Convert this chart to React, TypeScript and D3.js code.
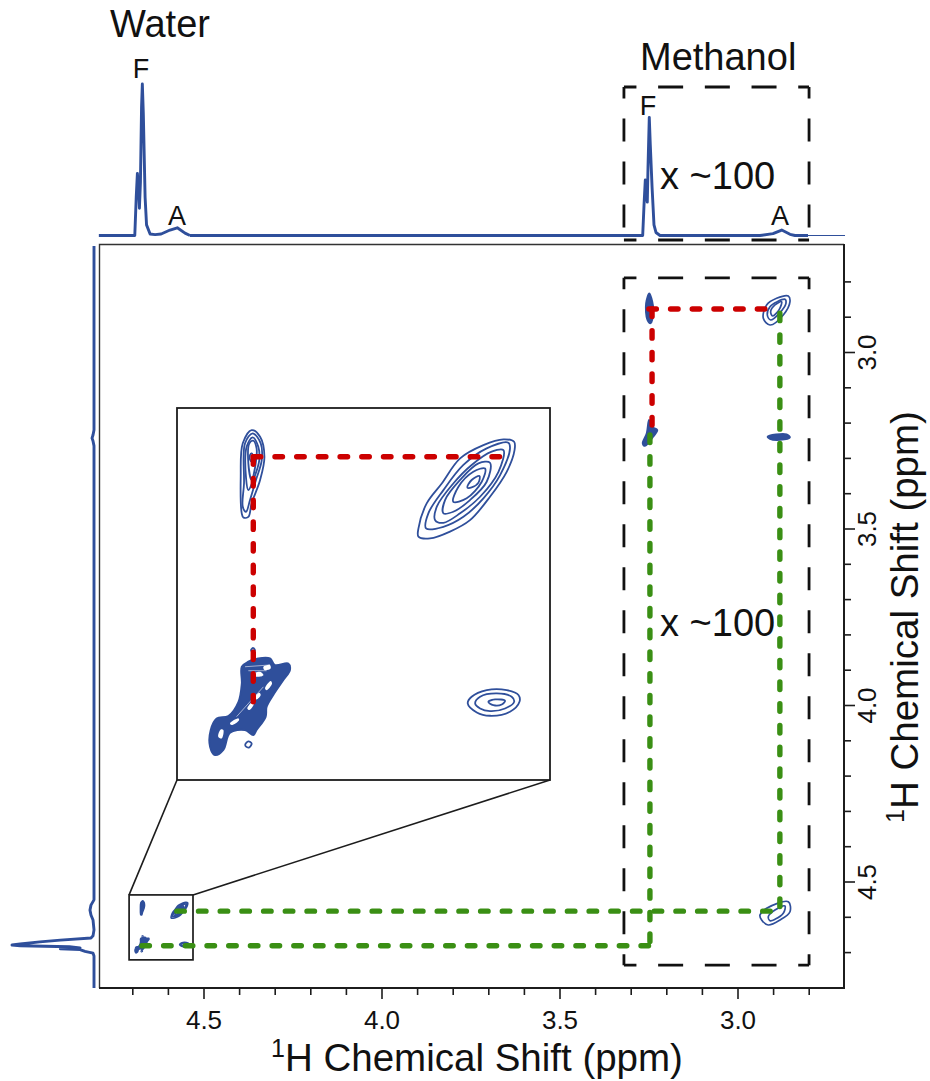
import React, { useEffect, useRef } from "react";
import * as d3 from "d3";

type P = [number, number];
const BLUE = "#2f4f9b", RED = "#cc0000", GREEN = "#3a8f14", INK = "#1c1c1c";
const FONT = "'Liberation Sans', Arial, sans-serif";

// axis values (ppm)
const majorX = [4.5, 4.0, 3.5, 3.0];
const minorX = [4.7, 4.6, 4.4, 4.3, 4.2, 4.1, 3.9, 3.8, 3.7, 3.6, 3.4, 3.3, 3.2, 3.1, 2.9, 2.8];
const majorY = [3.0, 3.5, 4.0, 4.5];
const minorY = [2.8, 2.9, 3.1, 3.2, 3.3, 3.4, 3.6, 3.7, 3.8, 3.9, 4.1, 4.2, 4.3, 4.4, 4.6, 4.7];

// top projection: [ppm, relative intensity]
const topWater: P[] = [[4.794,0],[4.693,0],[4.689,25],[4.6857,41],[4.6823,32],[4.680,18],[4.6772,35],[4.674,85],[4.6718,100],[4.669,80],[4.664,25],[4.660,7],[4.650,1],[4.636,0.6],[4.619,1],[4.594,3.6],[4.5736,5.1],[4.552,1.6],[4.538,0]];
const topMethanol: P[] = [[4.538,0],[3.2663,0],[3.2626,20],[3.259,36.6],[3.2562,30],[3.2534,22],[3.2514,45],[3.2478,78],[3.245,60],[3.24,32],[3.2346,7],[3.229,2],[3.2177,0],[2.9368,0],[2.9003,1.2],[2.8758,3.6],[2.8525,0.8],[2.8385,0],[2.802,0]];
const topTail: P[] = [[2.802,0],[2.698,0]];
// left projection: [ppm, relative intensity]
const leftTrace: P[] = [[2.7,0],[3.221,0],[3.235,1.2],[3.244,2.4],[3.252,1.2],[3.266,0],[4.552,0],[4.567,3.7],[4.581,4.9],[4.595,3.7],[4.609,1.2],[4.637,0],[4.654,1.2],[4.660,3.7],[4.666,41],[4.671,66],[4.677,90],[4.680,100],[4.682,90],[4.685,30],[4.688,17],[4.691,41],[4.693,17],[4.698,11],[4.703,1.2],[4.711,0],[4.802,0]];

// water region contours: [F2 ppm, F1 ppm]
const waterFF: P[][] = [
  [[4.6766,4.5927],[4.6771,4.5761],[4.6761,4.561],[4.6718,4.555],[4.6677,4.558],[4.6656,4.5671],[4.6677,4.5776],[4.6718,4.5882],[4.6734,4.5943],[4.6758,4.5946]],
  [[4.6755,4.5792],[4.675,4.561],[4.6713,4.5565],[4.6674,4.561],[4.6669,4.5686],[4.6697,4.5776],[4.6726,4.5867],[4.6745,4.592],[4.6761,4.5897]],
  [[4.6745,4.5769],[4.6742,4.5625],[4.6713,4.5583],[4.6686,4.5625],[4.6681,4.5686],[4.671,4.5776],[4.6734,4.5822]],
  [[4.6734,4.5701],[4.6729,4.561],[4.671,4.5598],[4.6694,4.5633],[4.6697,4.5693],[4.6718,4.5776]],
  [[4.6726,4.5663],[4.6718,4.5656],[4.671,4.5674],[4.6718,4.5693],[4.6726,4.5683]],
];
const waterAF: P[][] = [
  [[4.5909,4.6033],[4.5909,4.5995],[4.5869,4.5882],[4.5796,4.5792],[4.5707,4.5678],[4.5594,4.5618],[4.5497,4.5592],[4.5445,4.5603],[4.5443,4.5641],[4.5481,4.5739],[4.5562,4.5852],[4.5659,4.5958],[4.5756,4.601],[4.5853,4.6041]],
  [[4.5872,4.5995],[4.5861,4.5927],[4.5788,4.5822],[4.5691,4.5708],[4.5578,4.5633],[4.5473,4.5607],[4.5465,4.5633],[4.5513,4.5754],[4.5594,4.5859],[4.5691,4.5943],[4.5788,4.5988]],
  [[4.5828,4.5958],[4.582,4.5897],[4.574,4.5792],[4.5651,4.5708],[4.5554,4.5648],[4.5497,4.5641],[4.5521,4.5739],[4.561,4.5852],[4.5707,4.5927],[4.5788,4.597]],
  [[4.5788,4.5927],[4.578,4.5867],[4.5707,4.5776],[4.5618,4.5701],[4.5562,4.5698],[4.5578,4.5784],[4.5659,4.5867],[4.574,4.592]],
  [[4.574,4.5875],[4.5715,4.5807],[4.5643,4.5739],[4.5586,4.5724],[4.5602,4.5784],[4.5675,4.5859]],
  [[4.5672,4.581],[4.5651,4.5776],[4.5613,4.5758],[4.5618,4.5788],[4.5651,4.581]],
];
const waterAA: P[][] = [
  [[4.567,4.6788],[4.5651,4.6758],[4.5578,4.6728],[4.5481,4.6728],[4.5424,4.675],[4.5419,4.6781],[4.5465,4.6826],[4.5562,4.6844],[4.5626,4.6829]],
  [[4.5634,4.6788],[4.561,4.6758],[4.5529,4.6743],[4.5457,4.6758],[4.5445,4.6781],[4.5489,4.6811],[4.5562,4.6823],[4.561,4.6811]],
  [[4.557,4.6781],[4.5537,4.677],[4.5489,4.6776],[4.5505,4.6793],[4.5546,4.6796]],
];
const waterSpots: P[][] = [
  [[4.6749,4.6974],[4.6734,4.696],[4.6718,4.6969],[4.6729,4.6987],[4.6745,4.6984]],
  [[4.6721,4.6547],[4.6711,4.6537],[4.6702,4.6547],[4.6711,4.6556]],
];
const waterBlob: P[] = [[4.692,4.6984],[4.6917,4.6909],[4.6888,4.6856],[4.6831,4.6845],[4.6782,4.6781],[4.6766,4.6698],[4.6766,4.6622],[4.6734,4.6599],[4.6686,4.6584],[4.6629,4.6584],[4.6605,4.6614],[4.654,4.6607],[4.6532,4.6637],[4.6564,4.6682],[4.6613,4.675],[4.6645,4.6803],[4.665,4.6849],[4.6694,4.6909],[4.671,4.6932],[4.675,4.6909],[4.6823,4.6921],[4.6855,4.6999],[4.6896,4.7022]];
const blobHoles: P[][] = [
  [[4.688,4.6939],[4.6868,4.6906],[4.6855,4.6909],[4.6863,4.6947]],
  [[4.6713,4.6655],[4.6677,4.6645],[4.6661,4.666],[4.6697,4.6667]],
  [[4.6661,4.6622],[4.6629,4.6614],[4.6626,4.663],[4.6656,4.6637]],
  [[4.6702,4.6761],[4.6681,4.674],[4.6674,4.675],[4.6694,4.677]],
  [[4.6653,4.672],[4.6626,4.6687],[4.6619,4.6698],[4.6645,4.6728]],
  [[4.6739,4.6811],[4.6713,4.6781],[4.6707,4.6791],[4.6729,4.6818]],
  [[4.6823,4.6879],[4.6782,4.6856],[4.6779,4.6864],[4.6815,4.6886]],
];
const blobLines: P[][] = [
  [[4.675,4.6622],[4.6629,4.6614]],
  [[4.6734,4.664],[4.6645,4.664]],
  [[4.6791,4.6848],[4.6661,4.6713]],
];

// methanol region contours
const methanolContours: P[][] = [
  [[2.8573,2.8413],[2.8526,2.8574],[2.8714,2.8951],[2.9088,2.9235],[2.9275,2.9046],[2.9182,2.8668],[2.8901,2.8479]],
  [[2.8667,2.8508],[2.8639,2.8621],[2.8826,2.8904],[2.9069,2.9093],[2.9163,2.8951],[2.9088,2.8715],[2.8882,2.8574]],
  [[2.876,2.8574],[2.8826,2.8791],[2.9013,2.898],[2.9069,2.8857],[2.8948,2.8668]],
  [[2.9369,4.5949],[2.9182,4.576],[2.8573,4.5572],[2.8526,4.5855],[2.8807,4.6091],[2.9135,4.6232],[2.9322,4.6091]],
  [[2.9135,4.5996],[2.8948,4.5808],[2.8667,4.5694],[2.8714,4.5902],[2.8948,4.6072],[2.9088,4.611]],
];
const methanolFilled: P[][] = [
  [[3.2476,2.8338],[3.2392,2.8574],[3.2364,2.881],[3.2439,2.9187],[3.2532,2.9093],[3.257,2.8621]],
  [[3.2486,3.1925],[3.2411,3.2114],[3.2252,3.2208],[3.2364,3.2397],[3.2598,3.2661],[3.2664,3.2586],[3.2551,3.2303]],
  [[2.9154,3.2397],[2.862,3.2331],[2.8526,3.2425],[2.8807,3.2491],[2.9088,3.2463]],
];

// connector lines: [[F2, F1], [F2, F1]]
const mainRed: P[][] = [[[3.249,2.878],[2.885,2.878]],[[3.24,2.878],[3.24,3.244]]];
const mainGreen: P[][] = [[[3.246,3.235],[3.246,4.686]],[[2.881,2.89],[2.881,4.581]],[[4.575,4.584],[2.905,4.584]],[[4.673,4.682],[3.246,4.682]]];
const insetRed: P[][] = [[[4.671,4.5671],[4.5497,4.5671]],[[4.671,4.5671],[4.671,4.6781]]];

// dashed boxes / zoom box ranges in ppm
const boxF2 = [3.319, 2.799];
const lowerBoxF1 = [2.79, 4.737];
const zoomF2 = [4.709, 4.5295];
const zoomF1 = [4.538, 4.722];

const x = d3.scaleLinear().domain([4.5, 3.0]).range([203.5, 737.5]);
const y = d3.scaleLinear().domain([3.0, 4.5]).range([352, 881.5]);
const insetX = d3.scaleLinear().domain([4.708, 4.5271]).range([177, 550]);
const insetY = d3.scaleLinear().domain([4.545, 4.7135]).range([408, 780]);
const topI = d3.scaleLinear().domain([0, 100]).range([235.5, 84]);
const leftI = d3.scaleLinear().domain([0, 100]).range([94, 12]);

const closed = (sx: any, sy: any) => d3.line<P>().x(d => sx(d[0])).y(d => sy(d[1])).curve(d3.curveCatmullRomClosed.alpha(0.5));
const topLine = d3.line<P>().x(d => x(d[0])).y(d => topI(d[1]));
const leftLine = d3.line<P>().x(d => leftI(d[1])).y(d => y(d[0]));

function Dashed({ x0, y0, x1, y1 }: { x0: number; y0: number; x1: number; y1: number }) {
  const st = { stroke: "#111", strokeWidth: 2.8, fill: "none" };
  return (
    <g {...st}>
      <line x1={x0} y1={y0} x2={x1} y2={y0} strokeDasharray="25 21.7" strokeDashoffset={12.5} />
      <line x1={x0} y1={y1} x2={x1} y2={y1} strokeDasharray="25 21.7" strokeDashoffset={12.5} />
      <line x1={x0} y1={y0} x2={x0} y2={y1} strokeDasharray="23 20" strokeDashoffset={11.5} />
      <line x1={x1} y1={y0} x2={x1} y2={y1} strokeDasharray="23 20" strokeDashoffset={11.5} />
    </g>
  );
}

function Contours({ sx, sy, w }: { sx: any; sy: any; w: number }) {
  const path = closed(sx, sy);
  return (
    <g fill="none" stroke={BLUE} strokeWidth={w}>
      {[...waterFF, ...waterAF, ...waterAA, ...waterSpots].map((c, i) => <path key={i} d={path(c) || ""} />)}
      <path d={path(waterBlob) || ""} fill={BLUE} />
    </g>
  );
}

export default function App() {
  const axes = useRef<SVGGElement>(null);
  useEffect(() => {
    const g = d3.select(axes.current);
    g.selectAll("*").remove();
    const style = (a: any) => {
      a.select(".domain").remove();
      a.selectAll("line").attr("stroke", INK).attr("stroke-width", 1.6);
      a.selectAll("text").attr("font-family", FONT).attr("font-size", 26).attr("fill", "#111");
    };
    const fmt = (d: any) => d3.format(".1f")(d);
    const bx = g.append("g").attr("transform", "translate(0,988)");
    bx.append("g").call(d3.axisBottom(x).tickValues(minorX).tickSize(7).tickFormat(() => "")).call(style);
    bx.append("g").call(d3.axisBottom(x).tickValues(majorX).tickSize(11).tickPadding(12).tickFormat(fmt)).call(style);
    const ry = g.append("g").attr("transform", "translate(844,0)");
    ry.append("g").call(d3.axisRight(y).tickValues(minorY).tickSize(7).tickFormat(() => "")).call(style);
    const maj = ry.append("g").call(d3.axisRight(y).tickValues(majorY).tickSize(11).tickFormat(fmt)).call(style);
    maj.selectAll("text").attr("transform", "rotate(-90)").attr("x", 0).attr("y", 32).attr("dy", 0).attr("text-anchor", "middle");
  }, []);

  const lowerBox = { x0: x(boxF2[0]), x1: x(boxF2[1]), y0: y(lowerBoxF1[0]), y1: y(lowerBoxF1[1]) };
  const mainPath = closed(x, y);
  const insetPath = closed(insetX, insetY);
  const zx0 = x(zoomF2[0]), zx1 = x(zoomF2[1]), zy0 = y(zoomF1[0]), zy1 = y(zoomF1[1]);

  const dash = (s: P[], k: number, sx: any, sy: any, color: string) => (
    <line key={k} x1={sx(s[0][0])} y1={sy(s[0][1])} x2={sx(s[1][0])} y2={sy(s[1][1])}
      stroke={color} strokeWidth={5.4} strokeLinecap="round" strokeDasharray="7.5 14.2" />
  );

  return (
    <svg width={930} height={1081} style={{ position: "absolute", left: 0, top: 0, background: "#fff" }} fontFamily={FONT}>
      {/* frame */}
      <path d={`M99.5,988 V244.5 H844`} fill="none" stroke="#333" strokeWidth={1.4} />
      <path d={`M99,988 H844 V244`} fill="none" stroke={INK} strokeWidth={2} />
      <g ref={axes} />

      {/* projections */}
      <g fill="none" stroke={BLUE} strokeLinejoin="round">
        <path d={topLine(topWater) || ""} strokeWidth={2.9} />
        <path d={topLine(topMethanol) || ""} strokeWidth={2.9} />
        <path d={topLine(topTail) || ""} strokeWidth={1.1} />
        <path d={leftLine(leftTrace) || ""} strokeWidth={2.9} />
      </g>

      {/* zoom box and leader lines */}
      <line x1={zx0} y1={zy0} x2={177} y2={780} stroke={INK} strokeWidth={1.6} />
      <line x1={zx1} y1={zy0} x2={550} y2={780} stroke={INK} strokeWidth={1.6} />
      <g><Contours sx={x} sy={y} w={1.6} /></g>
      <rect x={zx0} y={zy0} width={zx1 - zx0} height={zy1 - zy0} fill="none" stroke={INK} strokeWidth={1.7} />

      {/* methanol contours */}
      <g fill="none" stroke={BLUE} strokeWidth={1.7}>
        {methanolContours.map((c, i) => <path key={i} d={mainPath(c) || ""} />)}
        {methanolFilled.map((c, i) => <path key={i} d={mainPath(c) || ""} fill={BLUE} />)}
      </g>

      {/* connectors */}
      {mainGreen.map((s, i) => dash(s, i, x, y, GREEN))}
      {mainRed.map((s, i) => dash(s, 10 + i, x, y, RED))}

      {/* dashed boxes */}
      <Dashed x0={x(boxF2[0])} x1={x(boxF2[1])} y0={87} y1={240} />
      <Dashed {...lowerBox} />

      {/* inset */}
      <rect x={177} y={408} width={373} height={372} fill="#fff" stroke={INK} strokeWidth={1.8} />
      <Contours sx={insetX} sy={insetY} w={1.8} />
      <g fill="#fff" stroke="none">
        {blobHoles.map((c, i) => <path key={i} d={insetPath(c) || ""} />)}
      </g>
      <g stroke="#fff" strokeWidth={0.7} strokeOpacity={0.8}>
        {blobLines.map((s, i) => <line key={i} x1={insetX(s[0][0])} y1={insetY(s[0][1])} x2={insetX(s[1][0])} y2={insetY(s[1][1])} />)}
      </g>
      {insetRed.map((s, i) => dash(s, 20 + i, insetX, insetY, RED))}

      {/* labels */}
      <g fill="#111">
        <text x={110} y={37} fontSize={38}>Water</text>
        <text x={640} y={70} fontSize={38}>Methanol</text>
        <text x={660} y={189} fontSize={38}>x ~100</text>
        <text x={660} y={636} fontSize={38}>x ~100</text>
        <text x={141} y={78} fontSize={27} textAnchor="middle">F</text>
        <text x={648} y={115} fontSize={27} textAnchor="middle">F</text>
        <text x={177} y={225} fontSize={27} textAnchor="middle">A</text>
        <text x={780} y={225} fontSize={27} textAnchor="middle">A</text>
        <text x={477} y={1071} fontSize={38.5} textAnchor="middle">
          <tspan dy={-14} fontSize={25}>1</tspan><tspan dy={14}>H Chemical Shift (ppm)</tspan>
        </text>
        <text transform="translate(918,617) rotate(-90)" fontSize={38.5} textAnchor="middle">
          <tspan dy={-14} fontSize={25}>1</tspan><tspan dy={14}>H Chemical Shift (ppm)</tspan>
        </text>
      </g>
    </svg>
  );
}
